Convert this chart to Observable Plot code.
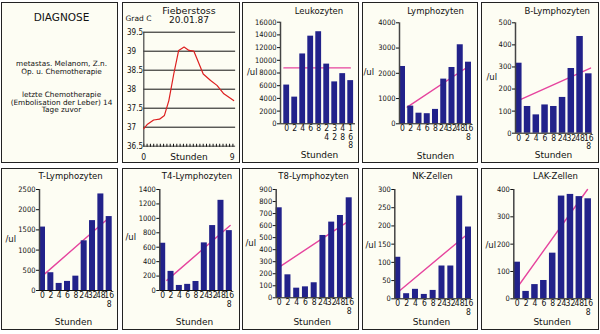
<!DOCTYPE html>
<html><head><meta charset="utf-8">
<script src="https://cdn.jsdelivr.net/npm/d3@7"></script>
<script src="https://cdn.jsdelivr.net/npm/@observablehq/plot@0.6"></script>
<style>
html,body{margin:0;padding:0;background:#fff;}
#wrap{position:relative;width:600px;height:334px;overflow:hidden;background:#fff;}
.panel{position:absolute;box-sizing:border-box;box-shadow:inset 0 0 0 1px #222;background:#fdfdf3;}
.panel svg{position:absolute;left:0;top:0;overflow:visible;}
</style></head><body><div id="wrap"></div>
<script>
// ---------- data ----------
const hours = ["0","2","4","6","8","24","32","48","168"];
const labelsStacked = ["0","2","4","6","8","2\n4","3\n2","4\n8","1\n6\n8"];
const labelsCompact = ["0","2","4","6","8","24","32","48","16\n8"];

const leukozyten   = [6100, 4200, 11000, 13800, 14500, 9400, 6600, 7900, 6800];
const lymphozyten  = [2270, 700, 420, 400, 570, 1770, 2230, 3130, 2440];
const bLymphozyten = [317, 121, 83, 128, 121, 162, 293, 438, 269];
const tLymphozyten = [1570, 440, 175, 225, 355, 1230, 1730, 2390, 1830];
const t4Lymphozyten = [655, 265, 70, 85, 125, 660, 900, 1250, 830];
const t8Lymphozyten = [748, 191, 80, 91, 125, 518, 629, 684, 831];
const nkZellen     = [114, 14, 26, 12, 23, 90, 90, 282, 197];
const lakZellen    = [134, 27, 52, 67, 167, 376, 382, 374, 366];

// trend lines: [start index, end index] and [start value, end value]
const leukoTrendX = [-0.35, 7.95], leukoTrendY = [8800, 8800];
const lymphoTrendX = [0.57, 7.84], lymphoTrendY = [660, 2240];
const bTrendX = [0.11, 8.2], bTrendY = [151, 295];
const tTrendX = [0.1, 7.8], tTrendY = [380, 1770];
const t4TrendX = [0.5, 8.1], t4TrendY = [140, 900];
const t8TrendX = [0, 8.15], t8TrendY = [255, 648];
const nkTrendX = [0, 7.9], nkTrendY = [18, 178];
const lakTrendX = [-0.38, 7.92], lakTrendY = [24, 400];

const leukoTicks = [0,2000,4000,6000,8000,10000,12000,14000,16000];
const lymphoTicks = [0,1000,2000,3000,4000];
const bTicks = [0,100,200,300,400,500];
const tTicks = [0,500,1000,1500,2000,2500];
const t4Ticks = [0,200,400,600,800,1000,1200,1400];
const t8Ticks = [0,100,200,300,400,500,600,700,800,900];
const nkTicks = [0,50,100,150,200,250,300];
const lakTicks = [0,100,200,300,400];

// fever curve
const feverHours = [0, 0.34, 1.0, 1.6, 2.1, 2.55, 3.05, 3.55, 4.1, 4.6, 5.1, 6.05, 6.8, 7.45, 8.15, 9.15];
const feverTemp  = [36.96, 37.07, 37.19, 37.21, 37.31, 37.70, 38.40, 39.02, 39.11, 39.02, 39.0, 38.40, 38.23, 38.10, 37.88, 37.70];
const feverTicks = [36.5, 37, 37.5, 38, 38.5, 39, 39.5];
const feverTickLabels = ["36.5","37","37.5","38","38.5","39","39.5"];
const feverHourTicks = [0, 9];

const diagnoseTitle = "DIAGNOSE";
const diagnoseLines = ["metastas. Melanom, Z.n.", "Op. u. Chemotherapie", "letzte Chemotherapie", "(Embolisation der Leber) 14", "Tage zuvor"];

// ---------- style ----------
const NAVY = "#22228a", PINK = "#e6449e", RED = "#dd1f1f";
const FONT = "'DejaVu Sans', 'Liberation Sans', sans-serif";
const FONT_N = "'Liberation Sans Narrow','DejaVu Sans Condensed','Liberation Sans',sans-serif";

const wrap = document.getElementById("wrap");
function addPanel(box, svg) {
  const [x, y, w, h] = box;
  const d = document.createElement("div");
  d.className = "panel";
  Object.assign(d.style, {left: x + "px", top: y + "px", width: w + "px", height: h + "px"});
  if (svg) d.appendChild(svg);
  wrap.appendChild(d);
}

function barPanel(c) {
  const [bx, by, bw, bh] = c.box;
  const step = (c.c8 - c.c0) / 8;
  const axisIdx = (c.axisX - c.c0) / step;
  const endIdx = (c.xEnd - c.c0) / step;
  const hw = c.barW / 2 / step;
  const yMax = c.ticks[c.ticks.length - 1];
  const trend = c.trendX.map((x, i) => ({x, y: c.trendY[i]}));
  const at = (str, px, py, o = {}) => Plot.text([str], {
    text: d => d, frameAnchor: "top-left", dx: px - c.axisX, dy: py - by,
    lineAnchor: "middle", textAnchor: "middle", fontSize: 8.5, fill: "#111", ...o});
  const svg = Plot.plot({
    width: bw, height: bh,
    marginLeft: c.axisX - bx, marginTop: 0, marginRight: 0, marginBottom: by + bh - c.y0,
    style: {background: "transparent", fontFamily: FONT, overflow: "visible", color: "#111"},
    x: {type: "linear", domain: [0, 8], range: [c.c0 - bx, c.c8 - bx], axis: null},
    y: {type: "linear", domain: [0, yMax], range: [c.y0 - by, c.yTop - by], axis: null},
    marks: [
      Plot.line(trend, {x: "x", y: "y", stroke: PINK, strokeWidth: 1.4}),
      Plot.rect(c.values, {x1: (d, i) => i - hw, x2: (d, i) => i + hw, y1: () => 0, y2: d => d, fill: NAVY}),
      Plot.ruleY([0], {x1: () => axisIdx, x2: () => endIdx, stroke: "#111"}),
      Plot.ruleX([axisIdx], {y1: () => 0, y2: () => yMax, stroke: "#444", strokeWidth: 1.5}),
      Plot.axisY(c.ticks, {anchor: "left", tickSize: 3, tickPadding: 1, fontSize: 7.5, fontFamily: FONT_N, label: null, tickFormat: d => String(d)}),
      Plot.text(c.labels, {x: (d, i) => i, y: () => 0, text: d => d, dy: 1.5, lineAnchor: "top", fontSize: 8.5, lineHeight: 1.0, fontFamily: FONT_N, fill: "#111"}),
      at(c.title, c.titleX, c.titleY),
      at("Stunden", c.stX, c.stY, {fontSize: 9}),
      at("/ul", c.ulX, c.ulY, {textAnchor: "start", fontSize: 8.5})
    ]
  });
  addPanel(c.box, svg);
}

const col = [[1,117],[122,118],[242,117],[362,116],[481,118]];
const row = [[2,161],[168,162]];
const box = (ci, ri) => [col[ci][0], row[ri][0], col[ci][1], row[ri][1]];

// ---------- DIAGNOSE ----------
{
  const b = box(0, 0);
  const lineY = [63.5, 71.2, 94.3, 101.8, 109.4];
  const svg = Plot.plot({
    width: b[2], height: b[3], margin: 0,
    style: {background: "transparent", fontFamily: FONT, overflow: "visible", color: "#111"},
    marks: [
      Plot.text([diagnoseTitle], {text: d => d, frameAnchor: "top-left", dx: 61 - b[0], dy: 17.5 - b[1], lineAnchor: "middle", textAnchor: "middle", fontSize: 10.5, fill: "#111"}),
      ...diagnoseLines.map((s, i) => Plot.text([s], {text: d => d, frameAnchor: "top-left", dx: 61 - b[0], dy: lineY[i] - b[1], lineAnchor: "middle", textAnchor: "middle", fontSize: 7.3, fill: "#111"}))
    ]
  });
  addPanel(b, svg);
}

// ---------- Fieberstoss ----------
{
  const b = box(1, 0);
  const [bx, by, bw, bh] = b;
  const x0 = 143.3, x9 = 231.7, yTopPx = 31.7, yBotPx = 145.7;
  const fever = feverHours.map((h, i) => ({h, t: feverTemp[i]}));
  const at = (str, px, py, o = {}) => Plot.text([str], {
    text: d => d, frameAnchor: "top-left", dx: px - x0, dy: py - by,
    lineAnchor: "middle", textAnchor: "middle", fontSize: 9, fill: "#111", ...o});
  const svg = Plot.plot({
    width: bw, height: bh,
    marginLeft: x0 - bx, marginTop: 0, marginRight: 0, marginBottom: by + bh - yBotPx,
    style: {background: "transparent", fontFamily: FONT, overflow: "visible", color: "#111"},
    x: {type: "linear", domain: [0, 9], range: [x0 - bx, x9 - bx], axis: null},
    y: {type: "linear", domain: [36.5, 39.5], range: [yBotPx - by, yTopPx - by], axis: null},
    marks: [
      Plot.ruleY(feverTicks.slice(1), {x1: () => 0, x2: () => 9.35, stroke: "#111"}),
      Plot.ruleY([36.5], {x1: () => 0, x2: () => 9.35, stroke: "#111", strokeWidth: 3, strokeDasharray: "1 2.3", dy: -1}),
      Plot.ruleY([36.5], {x1: () => 0, x2: () => 9.35, stroke: "#111", strokeWidth: 0.8}),
      Plot.ruleX([0], {y1: () => 36.5, y2: () => 39.5, stroke: "#444", strokeWidth: 1.2}),
      Plot.line(fever, {x: "h", y: "t", stroke: RED, strokeWidth: 1.2}),
      Plot.text(feverTicks, {y: d => d, text: (d, i) => feverTickLabels[i], frameAnchor: "left", dx: 126.5 - x0, textAnchor: "start", fontSize: 8, fontFamily: FONT_N, fill: "#111"}),
      Plot.text(feverHourTicks, {x: d => d, text: d => String(d), frameAnchor: "bottom", dy: 156.7 - yBotPx, lineAnchor: "middle", fontSize: 8.5, fontFamily: FONT_N, fill: "#111"}),
      at("Fieberstoss", 188.5, 10.5, {fontSize: 9.5}),
      at("20.01.87", 188.5, 20, {fontSize: 9}),
      at("Grad C", 125, 18.5, {textAnchor: "start", fontSize: 7.5}),
      at("Stunden", 188.5, 156.7, {fontSize: 9})
    ]
  });
  addPanel(b, svg);
}

// ---------- bar panels ----------
barPanel({box: box(2,0), axisX: 280, c0: 286.2, c8: 350.2, y0: 123.3, yTop: 21.7, barW: 5.8, xEnd: 355,
  values: leukozyten, trendX: leukoTrendX, trendY: leukoTrendY, ticks: leukoTicks, labels: labelsStacked,
  title: "Leukozyten", titleX: 318.5, titleY: 10.5, stX: 319, stY: 155, ulX: 246.5, ulY: 72});
barPanel({box: box(3,0), axisX: 399, c0: 402, c8: 468, y0: 123.3, yTop: 22.3, barW: 6, xEnd: 471.5,
  values: lymphozyten, trendX: lymphoTrendX, trendY: lymphoTrendY, ticks: lymphoTicks, labels: labelsCompact,
  title: "Lymphozyten", titleX: 435, titleY: 10.5, stX: 435, stY: 155.5, ulX: 363, ulY: 72});
barPanel({box: box(4,0), axisX: 515, c0: 518.3, c8: 588.3, y0: 132.7, yTop: 22.3, barW: 6.5, xEnd: 592,
  values: bLymphozyten, trendX: bTrendX, trendY: bTrendY, ticks: bTicks, labels: labelsCompact,
  title: "B-Lymphozyten", titleX: 556.7, titleY: 10.5, stX: 553, stY: 155, ulX: 486, ulY: 76.7});
barPanel({box: box(0,1), axisX: 39, c0: 42, c8: 108.7, y0: 290, yTop: 189, barW: 6, xEnd: 112,
  values: tLymphozyten, trendX: tTrendX, trendY: tTrendY, ticks: tTicks, labels: labelsCompact,
  title: "T-Lymphozyten", titleX: 70, titleY: 175.5, stX: 73, stY: 321.7, ulX: 5, ulY: 238.3});
barPanel({box: box(1,1), axisX: 159.3, c0: 162.2, c8: 228.8, y0: 290, yTop: 189, barW: 6, xEnd: 232,
  values: t4Lymphozyten, trendX: t4TrendX, trendY: t4TrendY, ticks: t4Ticks, labels: labelsCompact,
  title: "T4-Lymphozyten", titleX: 196.5, titleY: 175.5, stX: 194, stY: 321.7, ulX: 125, ulY: 236.7});
barPanel({box: box(2,1), axisX: 275.7, c0: 278.7, c8: 348.7, y0: 297.3, yTop: 189, barW: 6, xEnd: 352,
  values: t8Lymphozyten, trendX: t8TrendX, trendY: t8TrendY, ticks: t8Ticks, labels: labelsCompact,
  title: "T8-Lymphozyten", titleX: 313, titleY: 175.5, stX: 311.7, stY: 321.7, ulX: 245, ulY: 242.3});
barPanel({box: box(3,1), axisX: 394.3, c0: 397.3, c8: 468, y0: 298.3, yTop: 189, barW: 6, xEnd: 471,
  values: nkZellen, trendX: nkTrendX, trendY: nkTrendY, ticks: nkTicks, labels: labelsCompact,
  title: "NK-Zellen", titleX: 432, titleY: 175.5, stX: 431, stY: 321.7, ulX: 365, ulY: 245});
barPanel({box: box(4,1), axisX: 513.3, c0: 516.7, c8: 587.7, y0: 298.3, yTop: 189, barW: 6.5, xEnd: 591,
  values: lakZellen, trendX: lakTrendX, trendY: lakTrendY, ticks: lakTicks, labels: labelsCompact,
  title: "LAK-Zellen", titleX: 555, titleY: 175.5, stX: 551.7, stY: 321.7, ulX: 485, ulY: 245});
</script></body></html>
